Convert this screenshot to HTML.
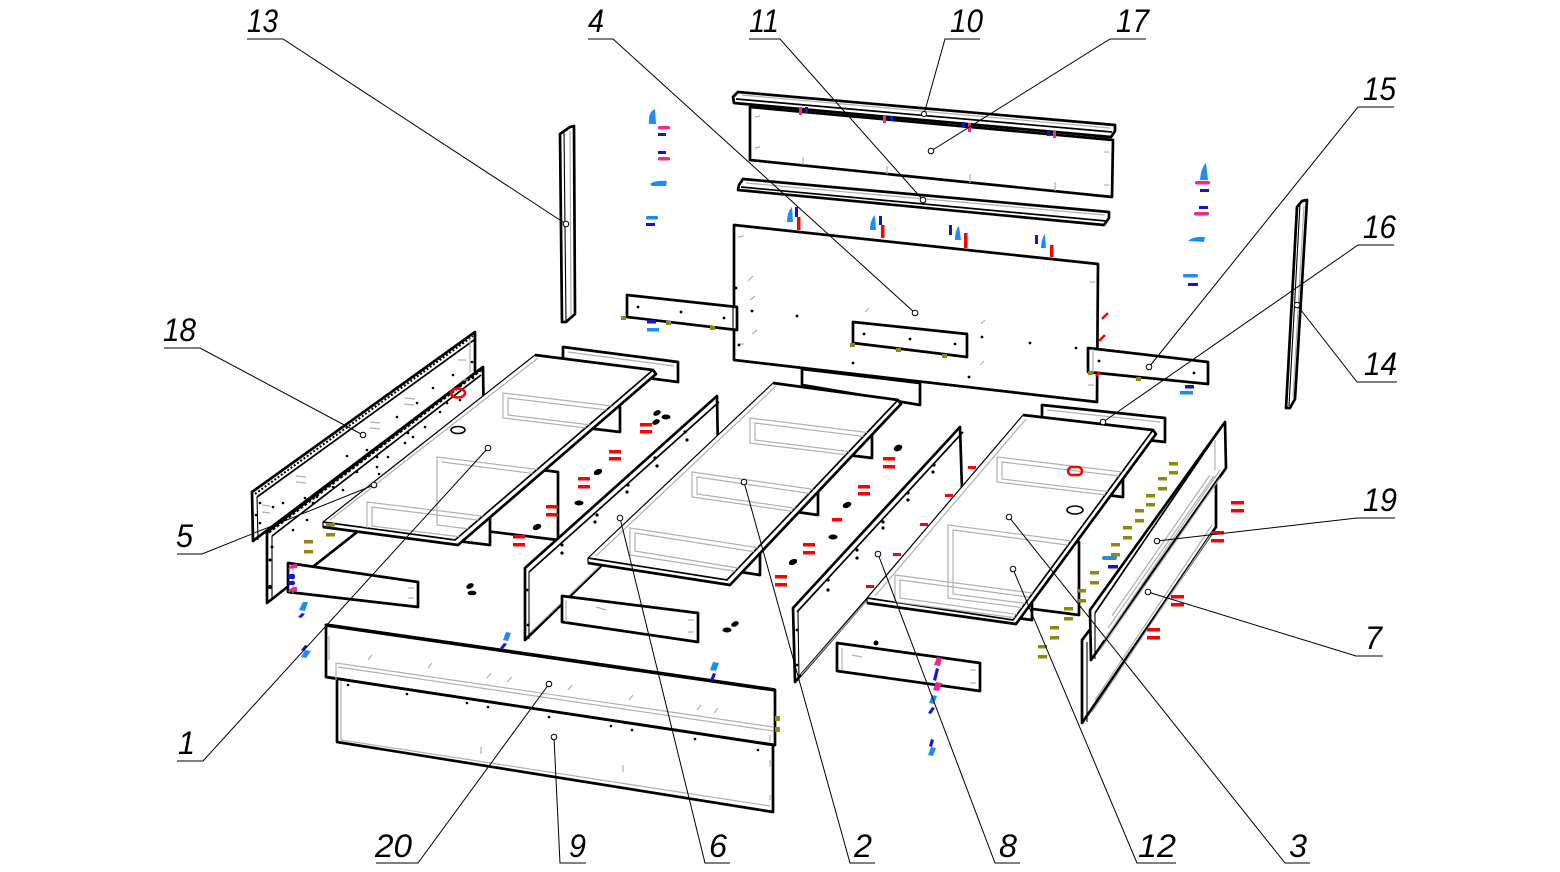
<!DOCTYPE html>
<html><head><meta charset="utf-8"><style>
html,body{margin:0;padding:0;background:#fff}
svg{display:block}
</style></head><body>
<svg xmlns="http://www.w3.org/2000/svg" width="1560" height="872" viewBox="0 0 1560 872">
<defs>
<style>
.k{fill:#fff;stroke:#000;stroke-width:2.7;stroke-linejoin:round}
.kt{fill:#fff;stroke:#000;stroke-width:1.2;stroke-linejoin:round}
.kk{fill:none;stroke:#000;stroke-width:2.7;stroke-linejoin:round}
.t{fill:none;stroke:#000;stroke-width:1.1}
.m{fill:none;stroke:#000;stroke-width:1.7}
.g{fill:none;stroke:#b0b0b0;stroke-width:1.2}
.L{fill:none;stroke:#000;stroke-width:1}
.c{fill:#fff;stroke:#000;stroke-width:1}
.r{fill:#f00}.b{fill:#1414d8}.lb{fill:#1e8cf0}.mg{fill:#f0288c}.o{fill:#8a8a10}
.d{fill:#000}
text{font-family:"Liberation Sans",sans-serif;font-style:italic;font-size:32px;fill:#000}
</style>
<clipPath id="cb1"><polygon points="535,355 653,370 455,540 323,522"/></clipPath>
<clipPath id="cb2"><polygon points="773,383 898,400 727,580 588,558"/></clipPath>
<clipPath id="cb3"><polygon points="1023,415 1153,430 1013,620 867,598"/></clipPath>
</defs>
<rect width="1560" height="872" fill="#fff"/>

<!-- ============ POSTS ============ -->
<polygon class="k" points="560,134 570,127 574,126 575,314 566,322 562,322"/>
<line class="t" x1="564" y1="132" x2="566" y2="321"/>
<line class="g" x1="570" y1="131" x2="571" y2="316"/>
<polygon class="k" points="1297,207 1302,201 1307,200 1295,399 1290,408 1286,408"/>
<line class="t" x1="1300" y1="204" x2="1289" y2="406"/>
<line class="g" x1="1304" y1="205" x2="1293" y2="398"/>

<!-- ============ HEADBOARD ============ -->
<polygon class="k" points="750,107 1113,140 1112,197 750,160"/>
<g class="g">
<line x1="755" y1="117" x2="760" y2="116"/><line x1="755" y1="148" x2="760" y2="147"/>
<line x1="803" y1="157" x2="803" y2="165"/><line x1="887" y1="166" x2="887" y2="174"/>
<line x1="970" y1="174" x2="970" y2="183"/><line x1="1055" y1="182" x2="1055" y2="191"/>
<line x1="1104" y1="152" x2="1109" y2="152"/><line x1="1104" y1="185" x2="1109" y2="185"/>
</g>
<polygon class="k" points="733,97 738,92 1115,125 1115,131 1111,137 734,103"/>
<line class="m" x1="736" y1="99" x2="1112" y2="132"/>
<line class="g" x1="742" y1="95" x2="1110" y2="128"/>

<polygon class="k" points="739,185 743,179 1109,212 1109,218 1104,225 738,190"/>
<line class="m" x1="741" y1="187" x2="1106" y2="221"/>
<line class="g" x1="746" y1="183" x2="1105" y2="215"/>

<polygon class="k" points="802,369 920,383 920,405 802,385"/>
<polygon class="k" points="734,225 1098,264 1097,402 734,360"/>
<g class="g">
<line x1="748" y1="281" x2="753" y2="276"/><line x1="750" y1="300" x2="755" y2="296"/>
<line x1="752" y1="334" x2="757" y2="330"/><line x1="865" y1="312" x2="869" y2="308"/>
<line x1="981" y1="324" x2="985" y2="320"/><line x1="980" y1="365" x2="984" y2="361"/>
<line x1="738" y1="237" x2="744" y2="236"/><line x1="738" y1="344" x2="744" y2="344"/>
<line x1="1090" y1="282" x2="1095" y2="282"/><line x1="1088" y1="385" x2="1094" y2="385"/>
</g>
<g class="d">
<circle cx="752" cy="311" r="1.4"/><circle cx="797" cy="316" r="1.4"/><circle cx="863" cy="333" r="1.4"/>
<circle cx="909" cy="339" r="1.4"/><circle cx="954" cy="344" r="1.4"/><circle cx="982" cy="337" r="1.4"/>
<circle cx="1030" cy="343" r="1.4"/><circle cx="1076" cy="348" r="1.4"/><circle cx="853" cy="363" r="1.4"/>
<circle cx="969" cy="377" r="1.4"/><circle cx="739" cy="345" r="1.4"/><circle cx="736" cy="288" r="1.4"/>
</g>
<polygon class="k" points="627,295 737,307 737,330 627,317"/>
<line class="t" x1="733" y1="307" x2="733" y2="330"/>
<g class="d"><circle cx="638" cy="307" r="1.4"/><circle cx="681" cy="312" r="1.4"/><circle cx="724" cy="318" r="1.4"/></g>
<polygon class="k" points="853,322 967,334 967,357 853,343"/>
<g class="d"><circle cx="864" cy="334" r="1.4"/><circle cx="910" cy="339" r="1.4"/><circle cx="955" cy="344" r="1.4"/></g>
<polygon class="k" points="1088,348 1208,362 1208,384 1088,372"/>
<line class="g" x1="1093" y1="349" x2="1093" y2="373"/>
<g class="d"><circle cx="1099" cy="361" r="1.4"/><circle cx="1148" cy="367" r="1.6"/><circle cx="1194" cy="373" r="1.4"/></g>

<!-- ============ LEFT SIDE PANELS 18 / 5 ============ -->
<polygon class="k" points="252,492 475,332 475,373 253,541"/>
<line x1="255" y1="494" x2="473" y2="336" stroke="#000" stroke-width="2" stroke-dasharray="2 2"/>
<line class="m" x1="257" y1="497" x2="474" y2="340"/>
<line class="t" x1="257" y1="497" x2="258" y2="540"/>
<line class="g" x1="470" y1="338" x2="470" y2="372"/>
<polygon class="k" points="267,532 483,367 484,432 267,603"/>
<line x1="269" y1="533" x2="482" y2="370" stroke="#000" stroke-width="1.4" stroke-dasharray="3 2"/>
<line class="m" x1="272" y1="536" x2="481" y2="375"/>
<line class="t" x1="272" y1="536" x2="272" y2="600"/>
<g class="g">
<line x1="405" y1="398" x2="415" y2="399"/><line x1="404" y1="404" x2="414" y2="405"/>
<line x1="370" y1="422" x2="380" y2="423"/><line x1="370" y1="428" x2="380" y2="429"/>
<line x1="296" y1="476" x2="306" y2="477"/><line x1="296" y1="482" x2="306" y2="483"/>
<line x1="262" y1="505" x2="270" y2="506"/><line x1="262" y1="512" x2="270" y2="513"/>
<line x1="458" y1="360" x2="466" y2="360"/><line x1="462" y1="380" x2="468" y2="380"/>
<line x1="420" y1="455" x2="430" y2="456"/><line x1="345" y1="510" x2="355" y2="511"/>
</g>
<g class="d">
<circle cx="433" cy="388" r="1.3"/><circle cx="453" cy="375" r="1.3"/><circle cx="447" cy="403" r="1.3"/>
<circle cx="417" cy="403" r="1.3"/><circle cx="397" cy="417" r="1.3"/><circle cx="408" cy="433" r="1.3"/>
<circle cx="425" cy="427" r="1.3"/><circle cx="413" cy="437" r="1.3"/><circle cx="405" cy="443" r="1.3"/>
<circle cx="387" cy="447" r="1.3"/><circle cx="377" cy="457" r="1.3"/><circle cx="367" cy="450" r="1.3"/>
<circle cx="347" cy="456" r="1.3"/><circle cx="357" cy="472" r="1.3"/><circle cx="333" cy="487" r="1.3"/>
<circle cx="343" cy="490" r="1.3"/><circle cx="317" cy="497" r="1.3"/><circle cx="305" cy="498" r="1.3"/>
<circle cx="283" cy="503" r="1.3"/><circle cx="293" cy="530" r="1.3"/><circle cx="307" cy="520" r="1.3"/>
<circle cx="313" cy="503" r="1.3"/><circle cx="273" cy="507" r="1.3"/><circle cx="260" cy="503" r="1.3"/>
<circle cx="260" cy="523" r="1.3"/><circle cx="272" cy="547" r="1.5"/><circle cx="270" cy="587" r="2"/>
<circle cx="377" cy="467" r="1.3"/><circle cx="388" cy="457" r="1.3"/><circle cx="379" cy="474" r="1.3"/>
<circle cx="460" cy="400" r="1.3"/><circle cx="472" cy="362" r="1.3"/><circle cx="473" cy="378" r="1.3"/>
<circle cx="270" cy="560" r="1.5"/><circle cx="256" cy="515" r="1.3"/><circle cx="440" cy="412" r="1.3"/>
</g>

<!-- ============ BOARD 1 ============ -->
<polygon class="k" points="563,347 678,362 678,382 563,367"/>
<line class="g" x1="568" y1="352" x2="674" y2="366"/>
<polygon class="k" points="503,393 620,407 620,432 503,418"/>
<polygon class="k" points="437,457 558,472 558,540 437,525"/>
<polygon class="k" points="367,502 490,517 490,545 367,530"/>
<polygon class="kt" points="535,355 653,370 656,374 458,545 323,527 323,522"/>
<polyline class="kk" points="535,355 653,370 656,374 458,545 323,527"/>
<polyline class="m" points="323,522 455,540 653,370"/>
<g clip-path="url(#cb1)" class="g">
<polygon points="503,393 620,407 620,432 503,418"/>
<polygon points="508,398 616,411 616,428 508,415"/>
<polygon points="437,457 558,472 558,540 437,525"/>
<polygon points="442,462 553,476"/>
<polygon points="367,502 490,517 490,545 367,530"/>
<polygon points="372,507 486,521 486,540 372,526"/>
<line x1="330" y1="520" x2="538" y2="358"/>
</g>

<!-- front-left rail -->
<polygon class="k" points="288,563 418,582 418,607 288,592"/>
<line class="g" x1="293" y1="567" x2="293" y2="593"/>
<g class="g"><line x1="408" y1="588" x2="414" y2="588"/><line x1="408" y1="598" x2="414" y2="598"/></g>

<!-- ============ PANEL 6 ============ -->
<polygon class="k" points="525,568 717,396 718,452 525,640"/>
<line class="m" x1="529" y1="572" x2="719" y2="402"/>
<line class="t" x1="529" y1="572" x2="529" y2="639"/>
<line class="g" x1="531" y1="632" x2="712" y2="458"/>
<g class="d">
<circle cx="685" cy="432" r="1.6"/><circle cx="687" cy="440" r="1.6"/><circle cx="655" cy="458" r="1.6"/>
<circle cx="657" cy="466" r="1.6"/><circle cx="628" cy="485" r="1.6"/><circle cx="627" cy="492" r="1.6"/>
<circle cx="597" cy="515" r="1.6"/><circle cx="595" cy="522" r="1.6"/><circle cx="562" cy="545" r="1.6"/>
<circle cx="562" cy="553" r="1.6"/><circle cx="527" cy="590" r="1.4"/><circle cx="528" cy="625" r="1.4"/>
</g>

<!-- ============ BOARD 2 ============ -->
<polygon class="k" points="750,418 872,433 872,458 750,443"/>
<polygon class="k" points="692,472 818,490 818,515 692,497"/>
<polygon class="k" points="630,528 760,548 760,575 630,555"/>
<polygon class="kt" points="773,383 898,400 901,404 730,585 588,563 588,558"/>
<polyline class="kk" points="773,383 898,400 901,404 730,585 588,563"/>
<polyline class="m" points="588,558 727,580 898,400"/>
<g clip-path="url(#cb2)" class="g">
<polygon points="750,418 872,433 872,458 750,443"/>
<polygon points="755,423 868,437 868,454 755,440"/>
<polygon points="692,472 818,490 818,515 692,497"/>
<polygon points="697,477 814,494 814,511 697,494"/>
<polygon points="630,528 760,548 760,575 630,555"/>
<polygon points="635,533 756,552 756,571 635,551"/>
<line x1="596" y1="556" x2="776" y2="386"/>
</g>
<!-- rail front of panel 6 -->
<polygon class="k" points="562,596 698,613 698,642 562,622"/>
<line class="g" x1="566" y1="600" x2="566" y2="622"/>
<g class="g"><line x1="688" y1="620" x2="694" y2="620"/><line x1="688" y1="632" x2="694" y2="632"/><line x1="596" y1="607" x2="606" y2="610"/></g>

<!-- ============ PANEL 8 ============ -->
<polygon class="k" points="793,608 960,427 962,490 795,682"/>
<line class="m" x1="797" y1="612" x2="963" y2="432"/>
<line class="t" x1="798" y1="612" x2="799" y2="681"/>
<line class="g" x1="801" y1="675" x2="958" y2="497"/>
<g class="d">
<circle cx="934" cy="465" r="1.6"/><circle cx="933" cy="472" r="1.6"/><circle cx="908" cy="493" r="1.6"/>
<circle cx="908" cy="500" r="1.6"/><circle cx="883" cy="522" r="1.6"/><circle cx="883" cy="528" r="1.6"/>
<circle cx="857" cy="550" r="1.6"/><circle cx="857" cy="558" r="1.6"/><circle cx="828" cy="580" r="1.6"/>
<circle cx="828" cy="590" r="1.6"/><circle cx="797" cy="630" r="1.4"/><circle cx="797" cy="665" r="1.4"/>
</g>
<!-- bottom rail under panel 8 -->
<polygon class="k" points="837,643 980,663 980,691 837,671"/>
<line class="g" x1="842" y1="648" x2="842" y2="670"/>
<g class="g"><line x1="970" y1="670" x2="976" y2="670"/><line x1="970" y1="683" x2="976" y2="683"/><line x1="852" y1="655" x2="862" y2="657"/></g>

<!-- ============ BOARD 3 ============ -->
<polygon class="k" points="1042,405 1165,418 1165,442 1042,428"/>
<line class="g" x1="1047" y1="410" x2="1160" y2="422"/>
<polygon class="k" points="997,457 1123,472 1123,497 997,482"/>
<polygon class="k" points="948,525 1079,542 1079,615 948,598"/>
<polygon class="k" points="895,575 1032,593 1032,620 895,602"/>
<polygon class="kt" points="1023,415 1153,430 1156,434 1016,624 867,603 867,598"/>
<polyline class="kk" points="1023,415 1153,430 1156,434 1016,624 867,603"/>
<polyline class="m" points="867,598 1013,620 1153,430"/>
<g clip-path="url(#cb3)" class="g">
<polygon points="997,457 1123,472 1123,497 997,482"/>
<polygon points="1002,462 1119,476 1119,493 1002,479"/>
<polygon points="948,525 1079,542 1079,615 948,598"/>
<polygon points="953,530 1075,546 1075,610 953,594"/>
<polygon points="895,575 1032,593 1032,620 895,602"/>
<polygon points="900,580 1028,597 1028,616 900,598"/>
<line x1="875" y1="596" x2="1026" y2="419"/>
</g>
<ellipse cx="1075" cy="510" rx="8" ry="4" fill="none" stroke="#000" stroke-width="1.6"/>

<!-- ============ RIGHT SIDE PANELS 7 / 19 ============ -->
<polygon class="k" points="1082,640 1216,465 1216,527 1082,723"/>
<line class="t" x1="1087" y1="642" x2="1087" y2="722"/>
<g class="g">
<line x1="1092" y1="712" x2="1212" y2="533"/>
<line x1="1095" y1="700" x2="1212" y2="525"/>
</g>
<polygon class="k" points="1090,610 1225,422 1226,468 1091,660"/>
<line class="m" x1="1095" y1="613" x2="1221" y2="428"/>
<line class="t" x1="1095" y1="613" x2="1095" y2="659"/>
<g class="g">
<line x1="1100" y1="650" x2="1220" y2="478"/>
<line x1="1104" y1="640" x2="1220" y2="470"/>
<line x1="1108" y1="628" x2="1214" y2="476"/>
<line x1="1112" y1="616" x2="1210" y2="475"/>
<line x1="1215" y1="440" x2="1215" y2="470"/>
</g>

<!-- ============ FRONT PANELS 9 / 20 ============ -->
<polygon class="k" points="337,678 773,743 773,812 337,742"/>
<line class="g" x1="341" y1="681" x2="341" y2="740"/>
<line class="g" x1="341" y1="740" x2="770" y2="806"/>
<polygon class="k" points="326,625 775,690 775,745 326,677"/>
<line x1="326" y1="625" x2="775" y2="690" stroke="#000" stroke-width="3.6"/>
<line x1="326" y1="677" x2="773" y2="745" stroke="#000" stroke-width="2.7"/>
<g class="g">
<polyline points="336,680 336,663 773,727"/>
<line x1="338" y1="667" x2="773" y2="731"/>
<line x1="329" y1="636" x2="329" y2="660"/>
<line x1="770" y1="735" x2="770" y2="742"/>
</g>
<g class="d">
<circle cx="348" cy="685" r="1.3"/><circle cx="407" cy="694" r="1.3"/><circle cx="467" cy="703" r="1.3"/>
<circle cx="488" cy="707" r="1.3"/><circle cx="549" cy="717" r="1.3"/><circle cx="611" cy="726" r="1.3"/>
<circle cx="632" cy="730" r="1.3"/><circle cx="695" cy="739" r="1.3"/><circle cx="758" cy="750" r="1.3"/>
</g>
<g class="g">
<line x1="368" y1="660" x2="372" y2="655"/><line x1="428" y1="668" x2="432" y2="663"/><line x1="487" y1="678" x2="491" y2="673"/>
<line x1="507" y1="682" x2="512" y2="677"/><line x1="568" y1="690" x2="572" y2="685"/><line x1="629" y1="700" x2="633" y2="695"/>
<line x1="697" y1="710" x2="701" y2="705"/><line x1="714" y1="713" x2="718" y2="708"/><line x1="481" y1="747" x2="481" y2="754"/>
<line x1="623" y1="765" x2="623" y2="772"/><line x1="770" y1="760" x2="770" y2="767"/><line x1="770" y1="795" x2="770" y2="800"/>
</g>

<!-- ============ FASTENERS ============ -->
<g class="r">
<rect x="640" y="423" width="12" height="3.5"/><rect x="640" y="430" width="12" height="3.5"/>
<rect x="609" y="450" width="12" height="3.5"/><rect x="609" y="457" width="12" height="3.5"/>
<rect x="578" y="477" width="12" height="3.5"/><rect x="578" y="485" width="12" height="3.5"/>
<rect x="546" y="505" width="12" height="3.5"/><rect x="546" y="513" width="12" height="3.5"/>
<rect x="513" y="535" width="12" height="3.5"/><rect x="513" y="543" width="12" height="3.5"/>
<rect x="883" y="457" width="12" height="3.5"/><rect x="883" y="465" width="12" height="3.5"/>
<rect x="858" y="485" width="12" height="3.5"/><rect x="858" y="492" width="12" height="3.5"/>
<rect x="803" y="543" width="12" height="3.5"/><rect x="803" y="551" width="12" height="3.5"/>
<rect x="775" y="575" width="12" height="3.5"/><rect x="775" y="583" width="12" height="3.5"/>
<rect x="1231" y="501" width="13" height="3.5"/><rect x="1231" y="509" width="13" height="3.5"/>
<rect x="1211" y="531" width="13" height="3.5"/><rect x="1211" y="539" width="13" height="3.5"/>
<rect x="1171" y="595" width="13" height="3.5"/><rect x="1171" y="603" width="13" height="3.5"/>
<rect x="1147" y="628" width="13" height="3.5"/><rect x="1147" y="636" width="13" height="3.5"/>
<rect x="832" y="518" width="10" height="3.5"/>
<rect x="968" y="466" width="8" height="3"/><rect x="945" y="494" width="8" height="3"/>
<rect x="920" y="523" width="8" height="3"/><rect x="893" y="553" width="8" height="3"/>
<rect x="866" y="585" width="8" height="3"/>
<rect x="797" y="217" width="3.5" height="13"/><rect x="881" y="225" width="3.5" height="13"/>
<rect x="964" y="233" width="3.5" height="15"/><rect x="1050" y="245" width="3.5" height="12"/>
</g>
<g stroke="#f00" stroke-width="2.5" fill="none">
<ellipse cx="458" cy="393" rx="7" ry="4.5"/>
<rect x="1068" y="467" width="14" height="8" rx="4"/>
<line x1="1102" y1="319" x2="1108" y2="313"/><line x1="1099" y1="341" x2="1105" y2="335"/>
<line x1="1096" y1="376" x2="1100" y2="372"/>
</g>
<g>
<path class="lb" d="M649,124 Q648,112 655,109 L656,124 Z"/>
<rect class="mg" x="658" y="126" width="12" height="3.5" rx="1.5"/>
<rect class="b" x="658" y="133" width="8" height="3"/>
<rect class="b" x="658" y="151" width="8" height="3"/>
<rect class="mg" x="658" y="157" width="12" height="3.5" rx="1.5"/>
<path class="lb" d="M650,184 Q655,180 667,181 L666,186 L652,186 Z"/>
<rect class="lb" x="646" y="216" width="12" height="3.5" rx="1.5"/>
<rect class="b" x="646" y="223" width="9" height="3"/>
<path class="lb" d="M1200,180 Q1201,168 1206,163 L1208,180 Z"/>
<rect class="mg" x="1195" y="181" width="15" height="3.5" rx="1.5"/>
<rect class="b" x="1200" y="189" width="9" height="3"/>
<rect class="b" x="1199" y="206" width="9" height="3"/>
<rect class="mg" x="1194" y="212" width="15" height="3.5" rx="1.5"/>
<path class="lb" d="M1188,241 Q1193,236 1205,237 L1204,242 Z"/>
<rect class="lb" x="1183" y="274" width="15" height="3.5" rx="1.5"/>
<rect class="b" x="1188" y="283" width="10" height="3"/>
<path class="lb" d="M787,222 Q787,212 792,207 L793,222 Z"/>
<rect class="b" x="795" y="207" width="3" height="10"/>
<path class="lb" d="M870,230 Q870,220 875,215 L876,230 Z"/>
<rect class="b" x="879" y="216" width="3" height="9"/>
<rect class="b" x="949" y="225" width="3" height="10"/>
<path class="lb" d="M955,240 Q955,230 959,226 L961,240 Z"/>
<path class="lb" d="M1041,248 Q1041,239 1045,234 L1046,248 Z"/>
<rect class="b" x="1035" y="235" width="3" height="9"/>
<rect class="mg" x="799" y="107" width="3" height="8"/><rect class="b" x="805" y="107" width="3" height="6"/>
<rect class="mg" x="883" y="115" width="3" height="8"/><rect class="b" x="890" y="116" width="3" height="5"/>
<rect class="b" x="962" y="122" width="3" height="5"/><rect class="mg" x="968" y="123" width="3" height="9"/>
<rect class="b" x="1047" y="131" width="3" height="5"/><rect class="mg" x="1053" y="131" width="3" height="7"/>
<rect class="b" x="647" y="320" width="9" height="3.5"/><rect class="lb" x="647" y="328" width="12" height="3.5"/>
<rect class="b" x="1185" y="385" width="9" height="3.5"/><rect class="lb" x="1180" y="391" width="13" height="3.5"/>
<path class="mg" d="M288,569 Q291,563 297,564 L297,568 Z"/>
<rect class="b" x="288" y="574" width="7" height="5" rx="2"/>
<rect class="b" x="288" y="581" width="7" height="4" rx="2"/>
<path class="mg" d="M288,592 Q291,586 297,587 L297,591 Z"/>
<path class="lb" d="M299,610 L303,602 L308,602 L305,611 Z"/>
<path class="b" d="M298,617 L302,613 L305,614 L301,618 Z"/>
<path class="b" d="M301,650 L305,645 L308,646 L304,651 Z"/>
<path class="lb" d="M301,657 L305,650 L311,651 L306,658 Z"/>
<path class="lb" d="M503,640 L506,632 L511,633 L508,641 Z"/>
<path class="b" d="M500,648 L504,643 L507,644 L503,649 Z"/>
<path class="lb" d="M710,670 L713,662 L719,663 L716,671 Z"/>
<path class="b" d="M710,680 L713,673 L716,674 L713,681 Z"/>
<path class="mg" d="M934,665 L937,657 L942,658 L940,666 Z"/>
<path class="b" d="M933,680 L936,668 L939,669 L936,681 Z"/>
<path class="mg" d="M933,690 L936,682 L942,683 L939,691 Z"/>
<path class="lb" d="M929,703 L932,695 L937,696 L934,704 Z"/>
<path class="b" d="M928,713 L932,707 L935,708 L931,714 Z"/>
<path class="b" d="M929,746 L931,739 L934,740 L932,747 Z"/>
<path class="lb" d="M928,755 L931,747 L936,748 L933,756 Z"/>
<rect class="lb" x="1102" y="556" width="15" height="4" rx="2"/>
<rect class="b" x="1108" y="565" width="10" height="3.5"/>
</g>
<g class="o">
<rect x="1169" y="462" width="9" height="3.5"/><rect x="1169" y="471" width="9" height="3.5"/>
<rect x="1158" y="477" width="9" height="3.5"/><rect x="1158" y="487" width="9" height="3.5"/>
<rect x="1146" y="494" width="9" height="3.5"/><rect x="1146" y="503" width="9" height="3.5"/>
<rect x="1135" y="509" width="9" height="3.5"/><rect x="1135" y="519" width="9" height="3.5"/>
<rect x="1123" y="526" width="9" height="3.5"/><rect x="1123" y="536" width="9" height="3.5"/>
<rect x="1111" y="543" width="9" height="3.5"/><rect x="1111" y="553" width="9" height="3.5"/>
<rect x="1090" y="571" width="9" height="3.5"/><rect x="1090" y="581" width="9" height="3.5"/>
<rect x="1077" y="589" width="9" height="3.5"/><rect x="1077" y="599" width="9" height="3.5"/>
<rect x="1064" y="607" width="9" height="3.5"/><rect x="1064" y="617" width="9" height="3.5"/>
<rect x="1050" y="626" width="9" height="3.5"/><rect x="1050" y="636" width="9" height="3.5"/>
<rect x="1038" y="645" width="9" height="3.5"/><rect x="1038" y="655" width="9" height="3.5"/>
<rect x="304" y="540" width="9" height="3.5"/><rect x="304" y="550" width="9" height="3.5"/>
<rect x="326" y="523" width="9" height="3.5"/><rect x="326" y="533" width="9" height="3.5"/>
<rect x="621" y="316" width="5" height="4"/><rect x="666" y="321" width="5" height="4"/><rect x="710" y="326" width="5" height="4"/>
<rect x="850" y="343" width="5" height="4"/><rect x="896" y="348" width="5" height="4"/><rect x="942" y="354" width="5" height="4"/>
<rect x="1088" y="371" width="5" height="4"/><rect x="1136" y="377" width="5" height="4"/>
<rect x="775" y="716" width="5" height="5"/><rect x="775" y="727" width="5" height="5"/>
</g>
<g class="d">
<ellipse cx="657" cy="413" rx="4" ry="2.5" transform="rotate(-25 657 413)"/>
<ellipse cx="666" cy="417" rx="4.5" ry="2.5"/>
<ellipse cx="656" cy="422" rx="4" ry="2.5" transform="rotate(-25 656 422)"/>
<ellipse cx="598" cy="472" rx="4.5" ry="2.8" transform="rotate(-25 598 472)"/>
<ellipse cx="579" cy="503" rx="4.5" ry="2.5"/>
<ellipse cx="537" cy="527" rx="4.5" ry="2.8" transform="rotate(-25 537 527)"/>
<ellipse cx="898" cy="448" rx="4.5" ry="3" transform="rotate(-25 898 448)"/>
<ellipse cx="847" cy="505" rx="4.5" ry="2.8" transform="rotate(-25 847 505)"/>
<ellipse cx="833" cy="537" rx="4.5" ry="2.5"/>
<ellipse cx="793" cy="562" rx="4.5" ry="2.8" transform="rotate(-25 793 562)"/>
<ellipse cx="735" cy="624" rx="4" ry="2.5" transform="rotate(-25 735 624)"/>
<ellipse cx="727" cy="630" rx="4.5" ry="2.5"/>
<ellipse cx="470" cy="586" rx="4" ry="2.5" transform="rotate(-25 470 586)"/>
<ellipse cx="472" cy="593" rx="4.5" ry="2.3"/>
<ellipse cx="876" cy="643" rx="2.5" ry="2.5"/>
</g>
<ellipse cx="458" cy="430" rx="7" ry="3.5" fill="none" stroke="#000" stroke-width="1.6"/>

<!-- ============ LEADERS ============ -->
<g class="L">
<polyline points="247,39 283,39 566,224"/>
<polyline points="588,39 613,39 915,313"/>
<polyline points="749,39 780,39 923,200"/>
<polyline points="980,39 945,39 924,114"/>
<polyline points="1146,39 1110,39 931,151"/>
<polyline points="1394,107 1358,107 1149,367"/>
<polyline points="1394,245 1358,245 1103,422"/>
<polyline points="1397,382 1357,382 1297,305"/>
<polyline points="164,348 200,348 363,435"/>
<polyline points="177,554 202,554 374,485"/>
<polyline points="177,761 203,761 488,448"/>
<polyline points="376,863 418,863 549,684"/>
<polyline points="586,863 560,863 554,737"/>
<polyline points="730,863 705,863 620,518"/>
<polyline points="875,863 850,863 744,482"/>
<polyline points="1020,863 995,863 878,554"/>
<polyline points="1176,863 1137,863 1013,569"/>
<polyline points="1310,863 1285,863 1009,517"/>
<polyline points="1383,656 1356,656 1148,592"/>
<polyline points="1395,518 1357,518 1157,541"/>
</g>
<g class="c">
<circle cx="566" cy="224" r="2.8"/><circle cx="915" cy="313" r="2.8"/><circle cx="923" cy="200" r="2.8"/>
<circle cx="924" cy="114" r="2.5"/><circle cx="931" cy="151" r="2.8"/><circle cx="1149" cy="367" r="2.8"/>
<circle cx="1103" cy="422" r="2.8"/><circle cx="1297" cy="305" r="2.8"/><circle cx="363" cy="435" r="2.8"/>
<circle cx="374" cy="485" r="2.8"/><circle cx="488" cy="448" r="2.8"/><circle cx="549" cy="684" r="2.8"/>
<circle cx="554" cy="737" r="2.8"/><circle cx="620" cy="518" r="2.8"/><circle cx="744" cy="482" r="2.8"/>
<circle cx="878" cy="554" r="2.8"/><circle cx="1013" cy="569" r="2.8"/><circle cx="1009" cy="517" r="2.8"/>
<circle cx="1148" cy="592" r="2.8"/><circle cx="1157" cy="541" r="2.8"/>
</g>

<!-- ============ LABELS ============ -->
<text x="247" y="32" textLength="31" lengthAdjust="spacingAndGlyphs">13</text>
<text x="588" y="32" textLength="16" lengthAdjust="spacingAndGlyphs">4</text>
<text x="749" y="32" textLength="30" lengthAdjust="spacingAndGlyphs">11</text>
<text x="950" y="32" textLength="33" lengthAdjust="spacingAndGlyphs">10</text>
<text x="1116" y="32" textLength="33" lengthAdjust="spacingAndGlyphs">17</text>
<text x="1363" y="100" textLength="33" lengthAdjust="spacingAndGlyphs">15</text>
<text x="1363" y="238" textLength="33" lengthAdjust="spacingAndGlyphs">16</text>
<text x="1364" y="375" textLength="33" lengthAdjust="spacingAndGlyphs">14</text>
<text x="163" y="341" textLength="33" lengthAdjust="spacingAndGlyphs">18</text>
<text x="176" y="547" textLength="17" lengthAdjust="spacingAndGlyphs">5</text>
<text x="178" y="754" textLength="17" lengthAdjust="spacingAndGlyphs">1</text>
<text x="1363" y="511" textLength="34" lengthAdjust="spacingAndGlyphs">19</text>
<text x="1365" y="649" textLength="17" lengthAdjust="spacingAndGlyphs">7</text>
<text x="375" y="857" textLength="37" lengthAdjust="spacingAndGlyphs">20</text>
<text x="569" y="857" textLength="17" lengthAdjust="spacingAndGlyphs">9</text>
<text x="709" y="857" textLength="18" lengthAdjust="spacingAndGlyphs">6</text>
<text x="854" y="857" textLength="18" lengthAdjust="spacingAndGlyphs">2</text>
<text x="999" y="857" textLength="18" lengthAdjust="spacingAndGlyphs">8</text>
<text x="1138" y="857" textLength="38" lengthAdjust="spacingAndGlyphs">12</text>
<text x="1289" y="857" textLength="18" lengthAdjust="spacingAndGlyphs">3</text>
</svg>
</body></html>
